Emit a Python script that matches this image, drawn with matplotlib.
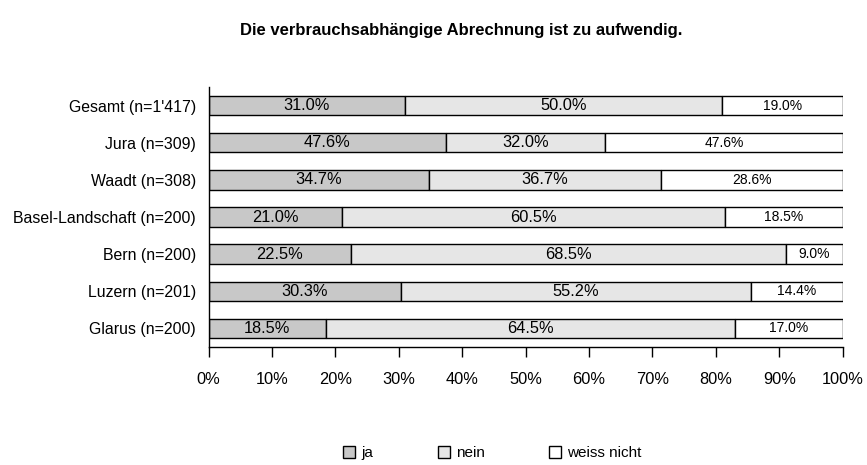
import numpy as np
import matplotlib
matplotlib.use("Agg")
import matplotlib.pyplot as plt
from matplotlib.ticker import FuncFormatter

plt.rcParams['font.family'] = ['Liberation Sans', 'DejaVu Sans']

# data (row labels show raw answers; bars are scaled to 100%)
categories = ["Gesamt (n=1'417)", "Jura (n=309)", "Waadt (n=308)",
              "Basel-Landschaft (n=200)", "Bern (n=200)", "Luzern (n=201)",
              "Glarus (n=200)"]
ja = [31.0, 47.6, 34.7, 21.0, 22.5, 30.3, 18.5]
nein = [50.0, 32.0, 36.7, 60.5, 68.5, 55.2, 64.5]
weiss_nicht = [19.0, 47.6, 28.6, 18.5, 9.0, 14.4, 17.0]
series_names = ["ja", "nein", "weiss nicht"]
colors = ["#c8c8c8", "#e6e6e6", "#ffffff"]

fig = plt.figure(figsize=(8.67, 4.65), dpi=100)
ax = fig.add_axes([208.5 / 867, 1 - 347 / 465, (842.6 - 208.5) / 867, 260 / 465])

vals = np.array([ja, nein, weiss_nicht])
shares = vals / vals.sum(axis=0)
y = np.arange(len(categories))
left = np.zeros(len(categories))
for i, name in enumerate(series_names):
    bars = ax.barh(y, shares[i], left=left, height=0.52, color=colors[i],
                   edgecolor="black", linewidth=1.0, label=name)
    ax.bar_label(bars, labels=[f"{v:.1f}%" for v in vals[i]], label_type="center",
                 fontsize=11.8 if i < 2 else 10)
    left += shares[i]

ax.set_ylim(6.5, -0.5)
ax.set_xlim(0, 1)
ax.set_yticks(y)
ax.set_yticklabels(categories, fontsize=11.4)
ax.tick_params(axis="y", length=0, pad=9)
ax.set_xticks(np.arange(0, 1.01, 0.1))
ax.xaxis.set_major_formatter(FuncFormatter(lambda v, p: f"{v * 100:.0f}%"))
ax.tick_params(axis="x", direction="out", length=7, width=1, labelsize=11.8, pad=11)
for s in ["top", "right"]:
    ax.spines[s].set_visible(False)
for s in ["left", "bottom"]:
    ax.spines[s].set_linewidth(1)

fig.text(0.532, 1 - 31 / 465, "Die verbrauchsabhängige Abrechnung ist zu aufwendig.",
         ha="center", va="center", fontsize=12, fontweight="bold")

fig.legend(loc="center", bbox_to_anchor=(0.568, 1 - 453 / 465), ncol=3, frameon=False,
           fontsize=11, handlelength=0.8, handleheight=0.8, columnspacing=4.2,
           handletextpad=0.4)

fig.savefig("out.png", dpi=100)
